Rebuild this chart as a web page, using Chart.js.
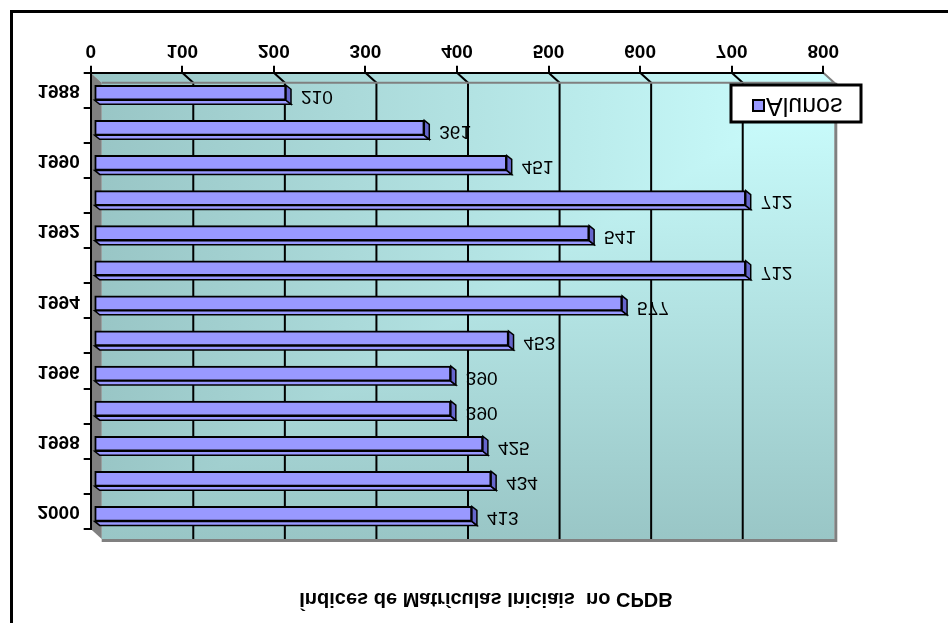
<!DOCTYPE html>
<html>
<head>
<meta charset="utf-8">
<script src="https://cdn.jsdelivr.net/npm/chart.js@4.4.1/dist/chart.umd.min.js"></script>
<style>
  html, body { margin: 0; padding: 0; background: #fff; }
  #grafico { display: block; transform: scaleY(-1); }
</style>
</head>
<body>
<canvas id="grafico" width="948" height="623"></canvas>
<script>
const anos = ["1988", "1989", "1990", "1991", "1992", "1993", "1994", "1995", "1996", "1997", "1998", "1999", "2000"];
const alunos = [210, 361, 451, 712, 541, 712, 577, 453, 390, 390, 425, 434, 413];
const tituloGrafico = "Índices de Matrículas Iniciais  no CPDB";
const nomeSerie = "Alunos";

const fonte = '"Liberation Sans", Arial, sans-serif';
const corBarra = "#9999FF";
const corLado = "#6666CC";
const corClaro = "#CCFFFF";
const corEscuro = "#99C6C6";
const cinza = "#808080";

// profundidade das paredes e das barras
const PX = 11, PY = -10;
const BX = 5, BY = -4;
const DESLOC_X = 3, DESLOC_Y = -2.5;

const paredes = {
    id: "paredes",
    beforeDraw(chart) {
        const { ctx, chartArea: a, scales: { x } } = chart;
        const L = a.left, R = a.right, T = a.top, B = a.bottom;
        ctx.save();

        // moldura
        ctx.fillStyle = "#000";
        ctx.fillRect(10, 0, 3, 613);
        ctx.fillRect(10, 610, 938, 3);

        // fundo + piso
        const fundo = new Path2D();
        fundo.rect(L + PX, T + PY, R - L, B - T);
        fundo.moveTo(L, B);
        fundo.lineTo(R, B);
        fundo.lineTo(R + PX, B + PY);
        fundo.lineTo(L + PX, B + PY);
        fundo.closePath();

        const gh = ctx.createLinearGradient(L + PX, 0, R + PX, 0);
        gh.addColorStop(0, corEscuro);
        gh.addColorStop(1, corClaro);
        ctx.fillStyle = gh;
        ctx.fill(fundo);
        ctx.globalCompositeOperation = "darken";
        const gv = ctx.createLinearGradient(0, T + PY, 0, B + PY);
        gv.addColorStop(0, corEscuro);
        gv.addColorStop(1, corClaro);
        ctx.fillStyle = gv;
        ctx.fill(fundo);
        ctx.globalCompositeOperation = "source-over";

        // linhas de grade
        ctx.strokeStyle = "#000";
        ctx.lineWidth = 2;
        for (let v = 100; v < 800; v += 100) {
            const p = x.getPixelForValue(v);
            ctx.beginPath();
            ctx.moveTo(p, B);
            ctx.lineTo(p + PX, B + PY);
            ctx.lineTo(p + PX, T + PY);
            ctx.stroke();
        }

        // bordas cinzas do fundo
        ctx.strokeStyle = cinza;
        ctx.lineWidth = 3;
        ctx.beginPath();
        ctx.moveTo(L + PX, T + PY - 1.5);
        ctx.lineTo(R + PX + 1.5, T + PY - 1.5);
        ctx.lineTo(R + PX + 1.5, B + PY);
        ctx.stroke();
        ctx.lineWidth = 2;
        ctx.beginPath();
        ctx.moveTo(L + PX, B + PY);
        ctx.lineTo(R + PX, B + PY);
        ctx.lineTo(R, B);
        ctx.stroke();

        // parede lateral
        ctx.fillStyle = cinza;
        ctx.beginPath();
        ctx.moveTo(L, B);
        ctx.lineTo(L + PX, B + PY);
        ctx.lineTo(L + PX, T + PY);
        ctx.lineTo(L, T);
        ctx.closePath();
        ctx.fill();

        ctx.restore();
    },
    beforeDatasetsDraw(chart) {
        chart.ctx.save();
        chart.ctx.translate(DESLOC_X, DESLOC_Y);
    },
    afterDatasetsDraw(chart) {
        const ctx = chart.ctx;
        const barras = chart.getDatasetMeta(0).data;

        // faces de cima e da direita das barras
        ctx.strokeStyle = "#000";
        ctx.lineWidth = 1.5;
        barras.forEach(b => {
            const topo = b.y - b.height / 2, base = b.y + b.height / 2;
            ctx.fillStyle = corBarra;
            ctx.beginPath();
            ctx.moveTo(b.base, topo);
            ctx.lineTo(b.x, topo);
            ctx.lineTo(b.x + BX, topo + BY);
            ctx.lineTo(b.base + BX, topo + BY);
            ctx.closePath();
            ctx.fill();
            ctx.stroke();
            ctx.fillStyle = corLado;
            ctx.beginPath();
            ctx.moveTo(b.x, topo);
            ctx.lineTo(b.x + BX, topo + BY);
            ctx.lineTo(b.x + BX, base + BY);
            ctx.lineTo(b.x, base);
            ctx.closePath();
            ctx.fill();
            ctx.stroke();
        });
        ctx.restore();

        // rótulos de valor
        ctx.save();
        ctx.fillStyle = "#000";
        ctx.font = "19px " + fonte;
        ctx.textAlign = "left";
        ctx.textBaseline = "middle";
        barras.forEach((b, i) => {
            ctx.fillText(String(alunos[i]), b.x + 18, b.y - 6);
        });
        ctx.restore();
    },
    afterDraw(chart) {
        const ctx = chart.ctx;
        ctx.save();

        // título
        ctx.fillStyle = "#000";
        ctx.font = "bold 20px " + fonte;
        ctx.textAlign = "center";
        ctx.textBaseline = "middle";
        ctx.fillText(tituloGrafico, 486, 24);

        // legenda
        ctx.fillStyle = "#fff";
        ctx.fillRect(731, 501, 130, 37);
        ctx.strokeStyle = "#000";
        ctx.lineWidth = 3;
        ctx.strokeRect(731, 501, 130, 37);
        ctx.fillStyle = corBarra;
        ctx.lineWidth = 2;
        ctx.fillRect(753, 512, 11, 11);
        ctx.strokeRect(753, 512, 11, 11);
        ctx.fillStyle = "#000";
        ctx.font = "25px " + fonte;
        ctx.textAlign = "left";
        ctx.fillText(chart.data.datasets[0].label, 766, 518);

        ctx.restore();
    }
};

function criarGrafico() {
    const canvas = document.getElementById("grafico");

    new Chart(canvas, {
        type: "bar",
        data: {
            labels: anos,
            datasets: [
                {
                    label: nomeSerie,
                    data: alunos,
                    backgroundColor: corBarra,
                    borderColor: "#000",
                    borderWidth: 2,
                    borderSkipped: false,
                    barThickness: 15,
                    clip: false
                }
            ]
        },
        options: {
            indexAxis: "y",
            responsive: false,
            animation: false,
            devicePixelRatio: 1,
            layout: { padding: { top: 94, right: 124.7, bottom: 32.7, left: 0 } },
            plugins: {
                legend: { display: false },
                title: { display: false },
                tooltip: { enabled: false }
            },
            scales: {
                x: {
                    type: "linear",
                    position: "bottom",
                    min: 0,
                    max: 800,
                    ticks: {
                        stepSize: 100,
                        color: "#000",
                        padding: 4,
                        font: { family: fonte, size: 19, weight: "bold" }
                    },
                    grid: { drawOnChartArea: false, tickLength: 7, color: "#000", lineWidth: 2 },
                    border: { display: true, color: "#000", width: 2 },
                    afterFit(s) { s.height = 40; }
                },
                y: {
                    type: "category",
                    reverse: true,
                    ticks: {
                        autoSkip: false,
                        color: "#000",
                        padding: 4,
                        font: { family: fonte, size: 19, weight: "bold" },
                        callback(v) { return v % 2 === 0 ? this.getLabelForValue(v) : ""; }
                    },
                    grid: { drawOnChartArea: false, tickLength: 7, color: "#000", lineWidth: 2, offset: true },
                    border: { display: true, color: "#000", width: 2 },
                    afterFit(s) { s.width = 90.7; }
                }
            }
        },
        plugins: [paredes]
    });
}

window.onload = criarGrafico;
</script>
</body>
</html>
